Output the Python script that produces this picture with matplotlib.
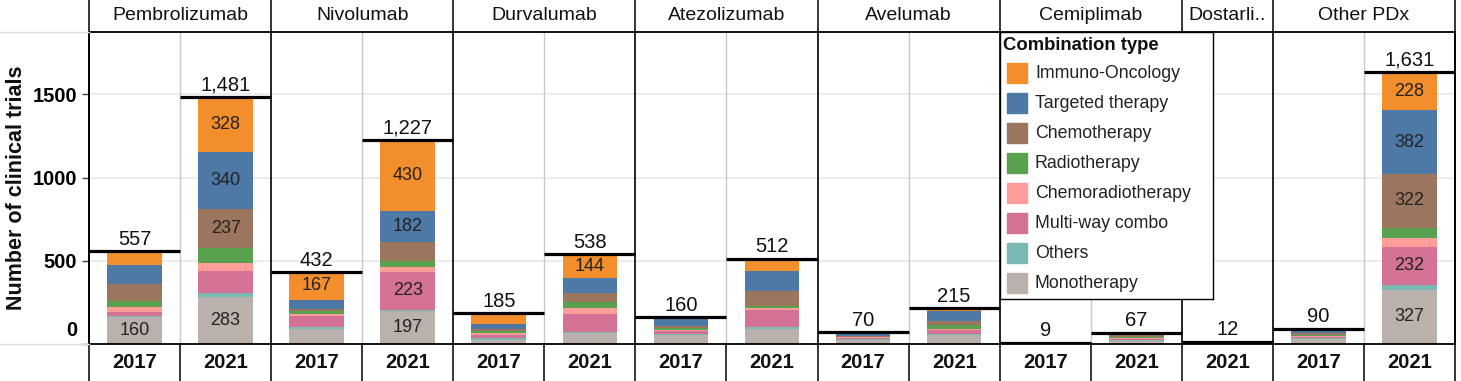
import matplotlib
matplotlib.use("Agg")
import matplotlib.pyplot as plt
import matplotlib.transforms as mtransforms
import numpy as np

plt.rcParams['font.family'] = ['Liberation Sans', 'DejaVu Sans']

# ---------------- data ----------------
panels = ['Pembrolizumab', 'Nivolumab', 'Durvalumab', 'Atezolizumab',
          'Avelumab', 'Cemiplimab', 'Dostarli..', 'Other PDx']
panel_years = [['2017', '2021'], ['2017', '2021'], ['2017', '2021'], ['2017', '2021'],
               ['2017', '2021'], ['2017', '2021'], ['2021'], ['2017', '2021']]

series_names = ['Immuno-Oncology', 'Targeted therapy', 'Chemotherapy', 'Radiotherapy',
                'Chemoradiotherapy', 'Multi-way combo', 'Others', 'Monotherapy']
series_colors = ['#F28E2B', '#4E79A7', '#9C755F', '#59A14F',
                 '#FF9D9A', '#D37295', '#79B8B3', '#BAB0AC']

# columns: Pem17, Pem21, Niv17, Niv21, Dur17, Dur21, Ate17, Ate21,
#          Ave17, Ave21, Cem17, Cem21, Dos21, Oth17, Oth21
immuno_oncology = [85, 328, 167, 430, 66, 144, 8, 76, 2, 16, 1, 4, 2, 6, 228]
targeted        = [112, 340, 54, 182, 26, 90, 46, 116, 20, 61, 1, 4, 2, 20, 382]
chemotherapy    = [100, 237, 15, 119, 14, 52, 12, 90, 4, 26, 2, 14, 4, 10, 322]
radiotherapy    = [36, 89, 14, 36, 10, 34, 8, 16, 2, 20, 1, 8, 0, 4, 60]
chemoradio      = [30, 50, 16, 30, 13, 36, 10, 8, 6, 8, 0, 6, 0, 6, 54]
multi_way       = [26, 132, 65, 223, 20, 110, 18, 104, 6, 22, 1, 8, 2, 8, 232]
others          = [8, 22, 9, 10, 10, 8, 6, 10, 4, 10, 0, 5, 0, 4, 26]
monotherapy     = [160, 283, 92, 197, 26, 64, 52, 92, 26, 52, 3, 18, 2, 32, 327]

stack_bottom_up = [monotherapy, others, multi_way, chemoradio,
                   radiotherapy, chemotherapy, targeted, immuno_oncology]
colors_bottom_up = series_colors[::-1]

y_ticks = [0, 500, 1000, 1500]
label_threshold = 140

# ---------------- layout ----------------
W, H = 1461, 381
fig = plt.figure(figsize=(W / 100, H / 100), dpi=100)
ax_l, ax_r, ax_t, ax_b = 89, 1455, 32, 344
ax = fig.add_axes([ax_l / W, (H - ax_b) / H, (ax_r - ax_l) / W, (ax_b - ax_t) / H])
ax_h_px = ax_b - ax_t

years_flat = [y for ys in panel_years for y in ys]
ncol = len(years_flat)
xpos = np.arange(ncol) + 0.5
ax.set_xlim(0, ncol)
ax.set_ylim(0, 1874)

# bars
bottom = np.zeros(ncol)
for vals, col in zip(stack_bottom_up, colors_bottom_up):
    vals = np.array(vals, dtype=float)
    ax.bar(xpos, vals, bottom=bottom, width=0.6, color=col, edgecolor='none', zorder=2)
    for x, v, b in zip(xpos, vals, bottom):
        if v >= label_threshold:
            ax.text(x, b + v / 2, f"{int(v)}", ha='center', va='center',
                    fontsize=13, color='#222222', zorder=3)
    bottom += vals
totals = bottom

ax.hlines(totals, xpos - 0.5, xpos + 0.5, color='black', lw=2.3, zorder=4)
for x, t in zip(xpos, totals):
    ax.annotate(f"{int(t):,}", (x, t), xytext=(0, 4.7), textcoords='offset points',
                ha='center', va='baseline', fontsize=14.5, color='#111111', zorder=5)

# grid
ax.set_axisbelow(True)
for yv in y_ticks[1:]:
    ax.axhline(yv, color='#e8e8e8', lw=1.2, zorder=0)

# boundaries
bounds = [0]
for ys in panel_years:
    bounds.append(bounds[-1] + len(ys))
panel_bounds = set(bounds)
xt = ax.get_xaxis_transform()
for b in range(ncol + 1):
    if b in panel_bounds:
        ax.plot([b, b], [0, 1], color='black', lw=1.2, transform=xt, zorder=1, clip_on=False)
    else:
        ax.plot([b, b], [0, 1], color='#c8c8c8', lw=1.0, transform=xt, zorder=1)
    # year row separators
    ax.plot([b, b], [0, -37 / ax_h_px], color='black', lw=1.1, transform=xt, clip_on=False)
for b in bounds:
    ax.plot([b, b], [1, 1 + 32 / ax_h_px], color='black', lw=1.1, transform=xt, clip_on=False)

# header text
for i, name in enumerate(panels):
    c = (bounds[i] + bounds[i + 1]) / 2
    ax.text(c, 1 + 16 / ax_h_px, name, transform=xt, ha='center', va='center',
            fontsize=14, color='#111111')

# year labels
for x, yr in zip(xpos, years_flat):
    ax.text(x, -19 / ax_h_px, yr, transform=xt, ha='center', va='center',
            fontsize=14.5, fontweight='bold', color='#111111')

# spines
for s in ax.spines.values():
    s.set_color('black')
    s.set_linewidth(1.3)

ax.set_xticks([])
ax.set_yticks(y_ticks)
ax.set_yticklabels([str(v) for v in y_ticks], fontsize=14.5, fontweight='bold')
ax.tick_params(axis='y', length=5, width=1, color='#444444', pad=3.5)
lbls = ax.get_yticklabels()
lbls[0].set_transform(lbls[0].get_transform() +
                      mtransforms.ScaledTranslation(0, 11.5 / 72, fig.dpi_scale_trans))

fig.text(16.5 / W, 1 - 188 / H, 'Number of clinical trials', rotation=90,
         ha='center', va='center', fontsize=15.5, fontweight='bold', color='#111111')

# left row borders
for py in (ax_t, ax_b):
    fig.add_artist(plt.Line2D([0, ax_l / W], [1 - py / H, 1 - py / H],
                              color='#dddddd', lw=1, transform=fig.transFigure))

# legend
lx0, lx1, ly0, ly1 = 1000, 1213, 32, 299
lax = fig.add_axes([lx0 / W, 1 - ly1 / H, (lx1 - lx0) / W, (ly1 - ly0) / H])
lax.set_xlim(0, lx1 - lx0)
lax.set_ylim(ly1 - ly0, 0)
lax.set_xticks([]); lax.set_yticks([])
lax.set_facecolor('white')
for s in lax.spines.values():
    s.set_color('black'); s.set_linewidth(1.0)
lax.text(3, 13, 'Combination type', fontsize=13.3, fontweight='bold',
         ha='left', va='center', color='#111111')
for i, (nm, col) in enumerate(zip(series_names, series_colors)):
    cy = 41 + 30 * i
    lax.add_patch(plt.Rectangle((7, cy - 10), 20, 20, color=col))
    lax.text(35, cy, nm, fontsize=12.8, ha='left', va='center', color='#222222')

fig.savefig('out.png', dpi=100)
